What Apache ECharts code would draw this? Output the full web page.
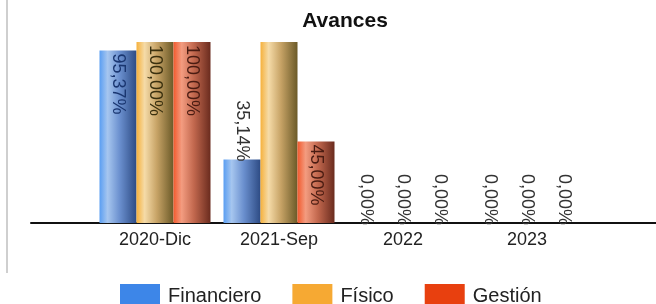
<!DOCTYPE html>
<html>
<head>
<meta charset="utf-8">
<script src="https://cdn.jsdelivr.net/npm/echarts@6/dist/echarts.min.js"></script>
<style>
  html, body { margin: 0; padding: 0; background: #fff; }
  #chart { width: 656px; height: 304px; }
</style>
</head>
<body>
<div id="chart"></div>
<script>
const categories = ['2020-Dic', '2021-Sep', '2022', '2023']
const financiero = [95.37, 35.14, 0, 0]
const fisico = [100, 100, 0, 0]
const gestion = [100, 45, 0, 0]
// the reference leaves the 2021-Sep "Físico" bar without a value label
const fisicoLabelShown = [true, false, true, true]

const FONT = '"Liberation Sans", Arial, sans-serif'

// horizontal "cylinder" shading for each series
function shade(stops) {
  return new echarts.graphic.LinearGradient(0, 0, 1, 0,
    stops.map((c, i) => ({ offset: [0, 0.22, 0.55, 1][i], color: c })))
}

function fmt(v) {
  return v.toFixed(2).replace('.', ',') + '%'
}

// label sits inside the bar when it fits, otherwise above it
function withLabels(values, insideColor, shown) {
  return values.map((v, i) => {
    const inside = v > 40
    return {
      value: v,
      label: {
        show: shown ? shown[i] : true,
        position: inside ? 'insideTop' : 'top',
        distance: inside ? 3 : -2,
        align: inside ? 'left' : 'right',
        color: inside ? insideColor : '#333',
      },
    }
  })
}

const baseLabel = {
  show: true,
  rotate: -90,
  verticalAlign: 'middle',
  fontFamily: FONT,
  fontSize: 18,
  formatter: (p) => fmt(p.value),
}

function barSeries(name, values, stops, legendColor, textColor, shown) {
  return {
    name,
    type: 'bar',
    barWidth: 37,
    barGap: '0%',
    data: withLabels(values, textColor, shown),
    itemStyle: { color: shade(stops) },
    label: baseLabel,
    // solid colour for the legend swatch
    legendColor,
  }
}

const myChart = echarts.init(document.getElementById('chart'))
const series = [
  barSeries('Financiero', financiero, ['#5a9ef2', '#a6c6ef', '#6a8fce', '#2d4b84'], '#3d86e8', '#1a3670'),
  barSeries('Físico', fisico, ['#f6b13c', '#f5dba8', '#c7a366', '#6b5a28'], '#f6a933', '#3a300f', fisicoLabelShown),
  barSeries('Gestión', gestion, ['#f25a2e', '#f39c80', '#c2684e', '#6a2b1e'], '#e8400f', '#4a1c12'),
]

myChart.setOption({
  animation: false,
  title: {
    text: 'Avances',
    left: 340,
    top: 6,
    textAlign: 'center',
    textStyle: { fontFamily: FONT, fontSize: 21, fontWeight: 'bold', color: '#111' },
  },
  legend: {
    left: 115,
    top: 279,
    itemWidth: 40,
    itemHeight: 25,
    itemGap: 31,
    icon: 'rect',
    textStyle: { fontFamily: FONT, fontSize: 20, color: '#222', padding: [0, 0, 0, 3] },
    data: series.map((s) => ({ name: s.name, itemStyle: { color: s.legendColor } })),
  },
  grid: [
    { left: 93, right: 67, top: 42, bottom: 81 },
    // wider grid only to carry the long baseline
    { left: 31, right: 0, top: 42, bottom: 81 },
  ],
  xAxis: [
    {
      type: 'category',
      data: categories,
      axisLine: { show: false },
      axisTick: { show: false },
      axisLabel: { fontFamily: FONT, fontSize: 18, color: '#222', margin: 8 },
    },
    {
      type: 'value',
      gridIndex: 1,
      axisLine: { show: true, onZero: false, lineStyle: { color: '#111', width: 2 } },
      axisTick: { show: false },
      axisLabel: { show: false },
      splitLine: { show: false },
    },
  ],
  yAxis: [
    { type: 'value', min: 0, max: 100, show: false },
    { type: 'value', gridIndex: 1, show: false },
  ],
  graphic: [
    {
      type: 'line',
      shape: { x1: 7, y1: 0, x2: 7, y2: 273 },
      style: { stroke: '#cfcfcf', lineWidth: 2 },
    },
  ],
  series,
})
</script>
</body>
</html>
